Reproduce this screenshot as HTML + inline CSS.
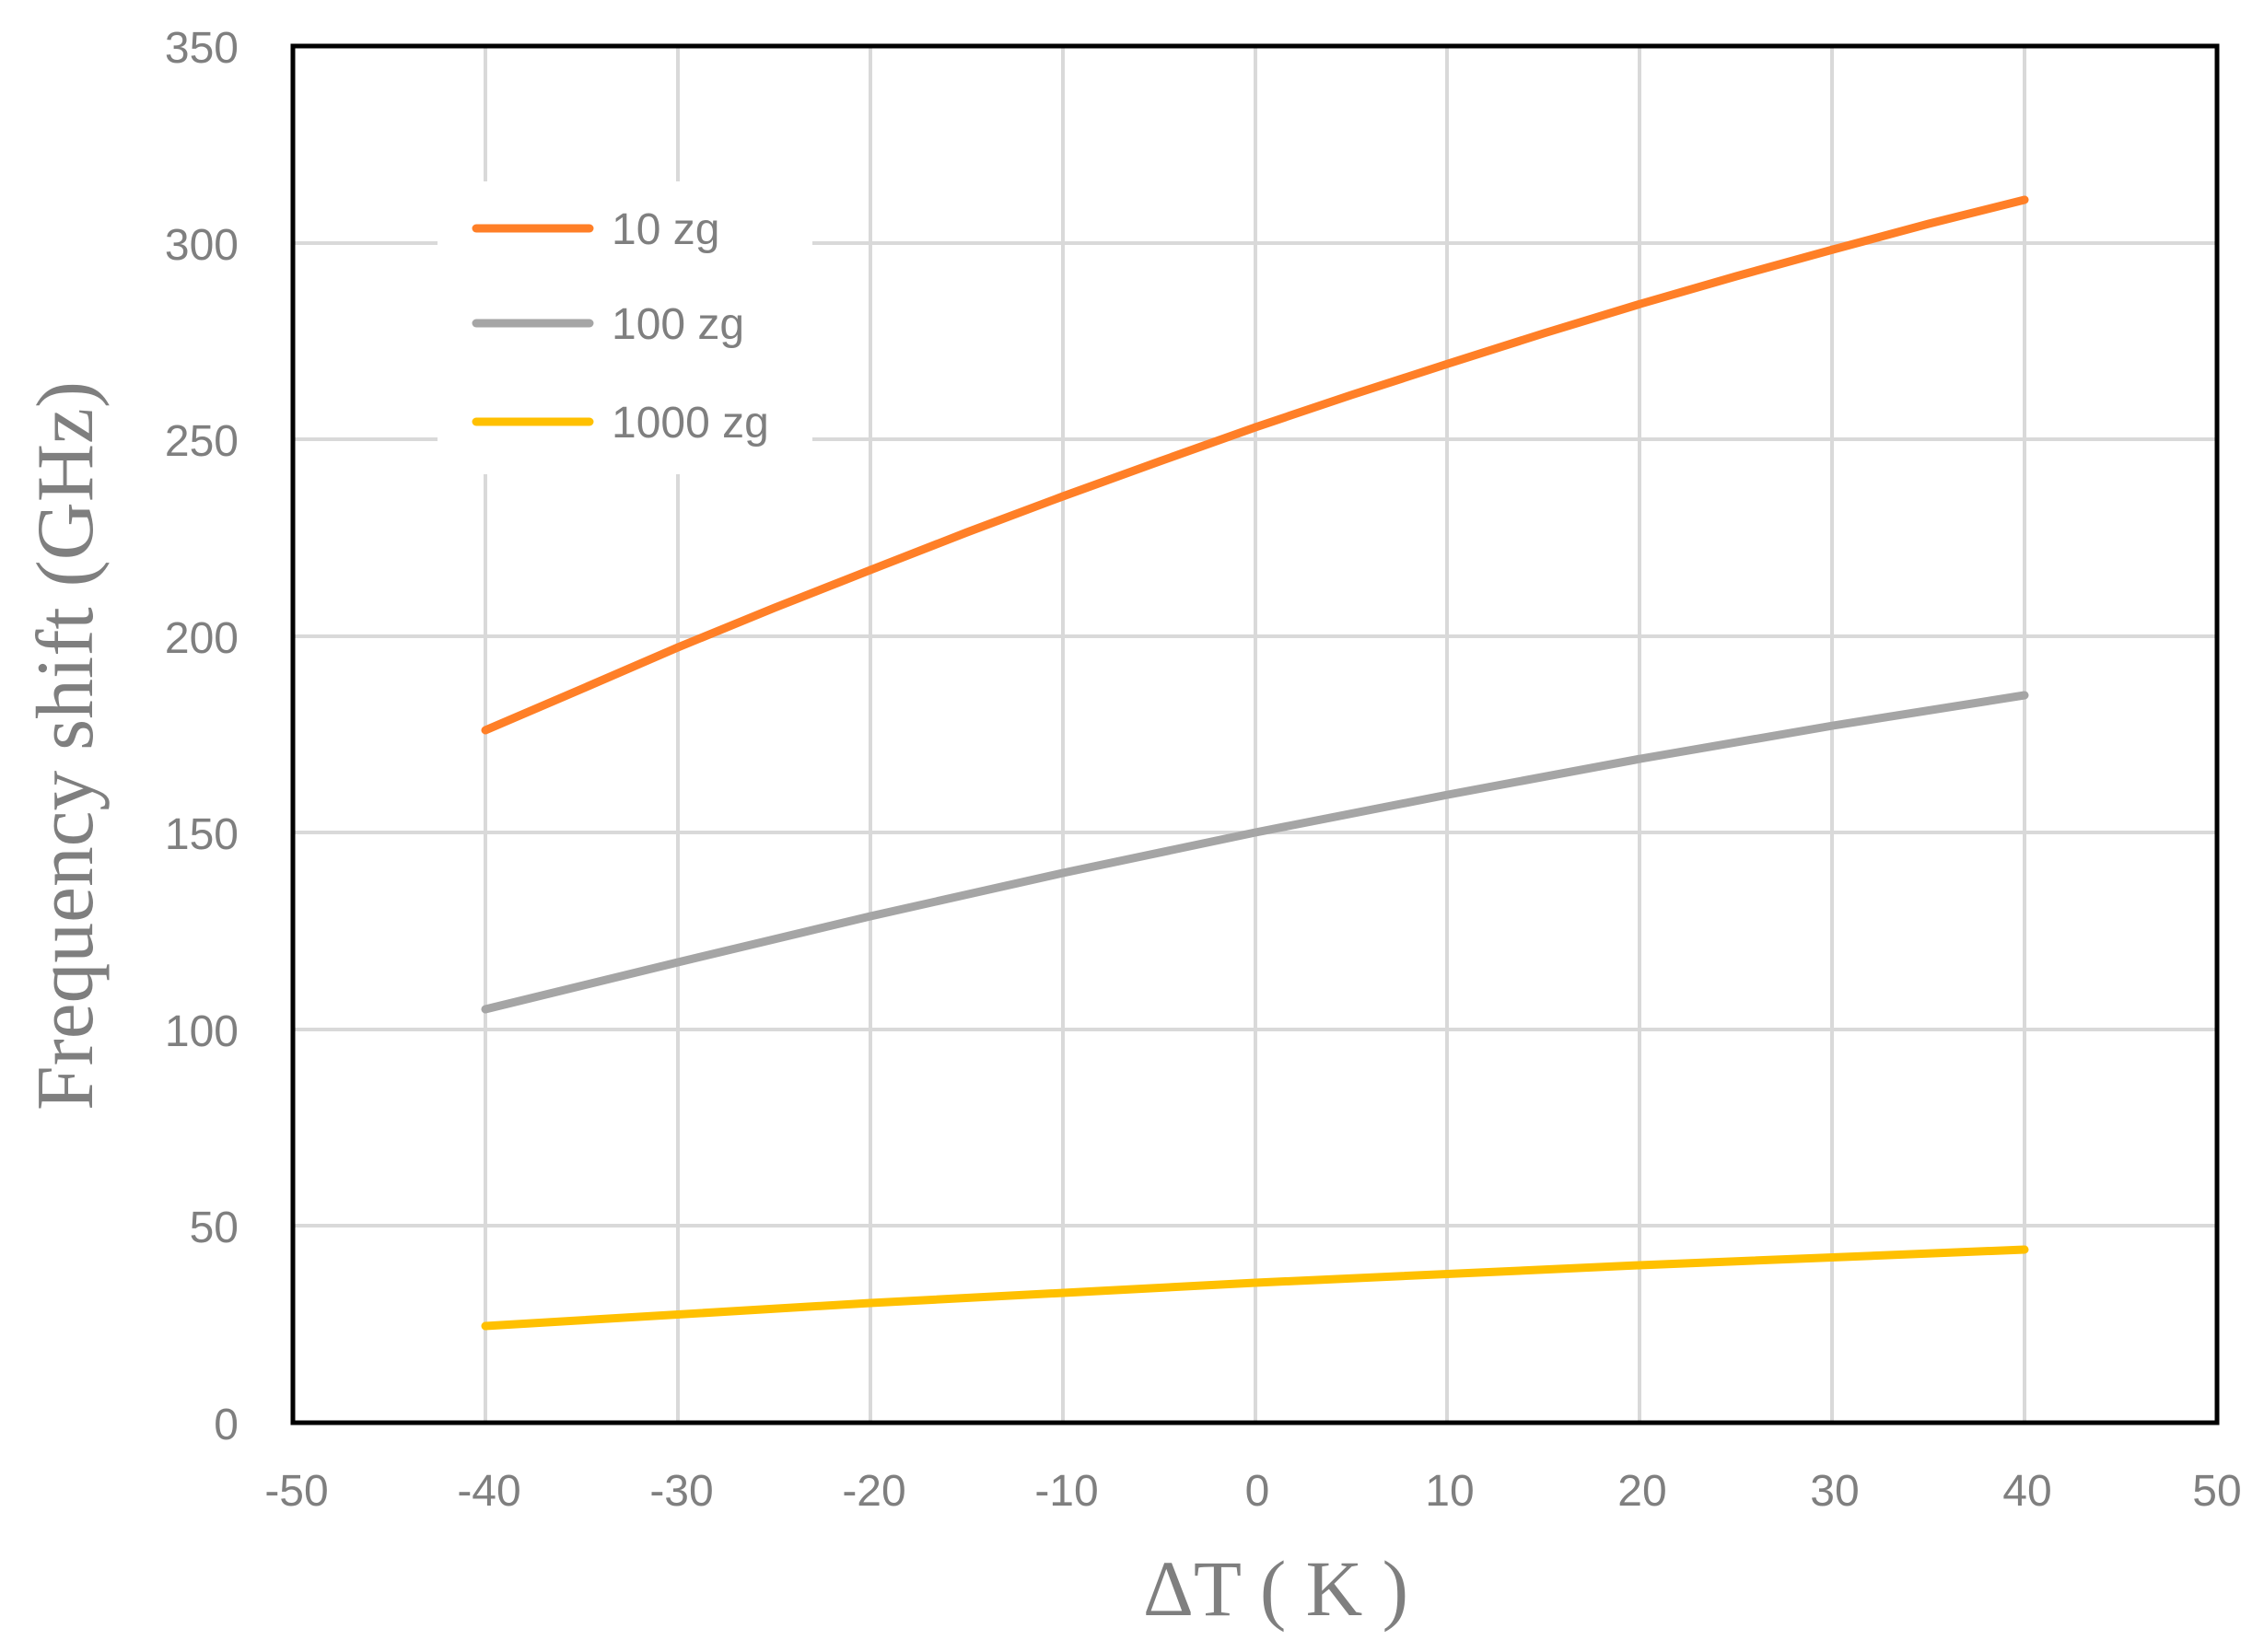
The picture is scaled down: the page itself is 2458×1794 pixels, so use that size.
<!DOCTYPE html>
<html><head><meta charset="utf-8"><style>html,body{margin:0;padding:0;background:#fff}svg{display:block}</style></head>
<body>
<svg width="2458" height="1794" viewBox="0 0 2458 1794" xmlns="http://www.w3.org/2000/svg">
<rect width="2458" height="1794" fill="#fff"/>
<g stroke="#d9d9d9" stroke-width="4">
<line x1="527" y1="50" x2="527" y2="1545"/>
<line x1="736" y1="50" x2="736" y2="1545"/>
<line x1="945" y1="50" x2="945" y2="1545"/>
<line x1="1154" y1="50" x2="1154" y2="1545"/>
<line x1="1363" y1="50" x2="1363" y2="1545"/>
<line x1="1571" y1="50" x2="1571" y2="1545"/>
<line x1="1780" y1="50" x2="1780" y2="1545"/>
<line x1="1989" y1="50" x2="1989" y2="1545"/>
<line x1="2198" y1="50" x2="2198" y2="1545"/>
<line x1="318" y1="1331" x2="2407" y2="1331"/>
<line x1="318" y1="1118" x2="2407" y2="1118"/>
<line x1="318" y1="904" x2="2407" y2="904"/>
<line x1="318" y1="691" x2="2407" y2="691"/>
<line x1="318" y1="477" x2="2407" y2="477"/>
<line x1="318" y1="264" x2="2407" y2="264"/>
</g>
<rect x="475" y="197" width="407" height="318" fill="#fff"/>
<rect x="318" y="50" width="2089" height="1495" fill="none" stroke="#000" stroke-width="5"/>
<g fill="none" stroke-width="9" stroke-linecap="round" stroke-linejoin="round">
<polyline stroke="#ff7f27" points="527,793 632,748 736,703 841,660 945,619 1050,578 1154,539 1259,501 1363,464 1467,429 1572,395 1676,362 1781,330 1885,300 1990,271 2094,243 2198,217"/>
<polyline stroke="#a5a5a5" points="527,1096 736,1045 945,995 1154,948 1363,904 1572,863 1781,824 1990,788 2198,755"/>
<polyline stroke="#ffc000" points="527,1440 945,1415 1363,1393 1780,1374 2198,1357"/>
<line stroke="#ff7f27" x1="517" y1="248" x2="640" y2="248"/>
<line stroke="#a5a5a5" x1="517" y1="351" x2="640" y2="351"/>
<line stroke="#ffc000" x1="517" y1="458" x2="640" y2="458"/>
</g>
<g font-family="Liberation Sans, sans-serif" font-size="48" fill="#7f7f7f">
<text x="664" y="265">10 zg</text>
<text x="664" y="368">100 zg</text>
<text x="664" y="475">1000 zg</text>
</g>
<g font-family="Liberation Sans, sans-serif" font-size="48" fill="#7f7f7f" text-anchor="end">
<text x="259" y="68">350</text>
<text x="259" y="282">300</text>
<text x="259" y="495">250</text>
<text x="259" y="709">200</text>
<text x="259" y="922">150</text>
<text x="259" y="1136">100</text>
<text x="259" y="1349">50</text>
<text x="259" y="1563">0</text>
</g>
<g font-family="Liberation Sans, sans-serif" font-size="48" fill="#7f7f7f" text-anchor="middle">
<text x="322" y="1635">-50</text>
<text x="531" y="1635">-40</text>
<text x="740" y="1635">-30</text>
<text x="949" y="1635">-20</text>
<text x="1158" y="1635">-10</text>
<text x="1365" y="1635">0</text>
<text x="1574" y="1635">10</text>
<text x="1783" y="1635">20</text>
<text x="1992" y="1635">30</text>
<text x="2201" y="1635">40</text>
<text x="2407" y="1635">50</text>
</g>
<text x="1385" y="1754" font-family="Liberation Serif, serif" font-size="86" fill="#7f7f7f" text-anchor="middle" textLength="288" lengthAdjust="spacingAndGlyphs">ΔT ( K )</text>
<text transform="translate(100,810) rotate(-90)" x="0" y="0" font-family="Liberation Serif, serif" font-size="88" fill="#7f7f7f" text-anchor="middle" textLength="792" lengthAdjust="spacingAndGlyphs">Frequency shift (GHz)</text>
</svg>
</body></html>
